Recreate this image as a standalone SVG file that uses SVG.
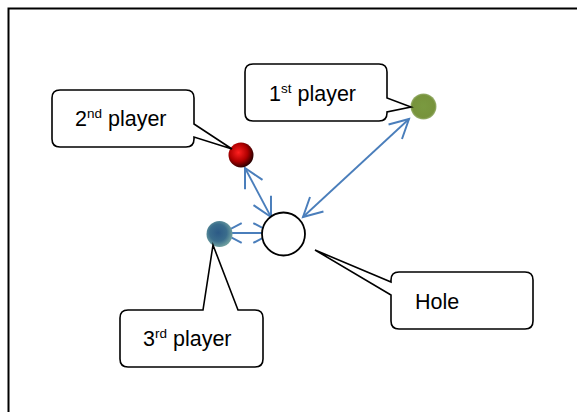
<svg xmlns="http://www.w3.org/2000/svg" width="577" height="412" viewBox="0 0 577 412">
<style>
.callout{fill:#fff;stroke:#000;stroke-width:1.6;stroke-linejoin:miter}
.lbl{font-family:"Liberation Sans",Arial,sans-serif;font-size:21.5px;fill:#000}
.sup{font-size:13.5px}
.conn{stroke:#4a7ebb;stroke-width:1.8;fill:none;marker-start:url(#ah);marker-end:url(#ah)}
</style>
<defs>
<marker id="ah" markerUnits="userSpaceOnUse" markerWidth="22" markerHeight="22" viewBox="0 0 20 20" refX="18" refY="10" orient="auto-start-reverse" overflow="visible">
<path d="M1,1 L18,10 L1,19" fill="none" stroke="#4a7ebb" stroke-width="1.8"/>
</marker>
<radialGradient id="red" cx="0.4" cy="0.4" r="0.65">
<stop offset="0" stop-color="#ff2020"/>
<stop offset="0.55" stop-color="#b00000"/>
<stop offset="1" stop-color="#1a0000"/>
</radialGradient>
<radialGradient id="green" cx="0.5" cy="0.5" r="0.5">
<stop offset="0" stop-color="#7a9a40"/>
<stop offset="0.85" stop-color="#77933c"/>
<stop offset="1" stop-color="#9ab070"/>
</radialGradient>
<radialGradient id="blue" cx="0.45" cy="0.45" r="0.55">
<stop offset="0" stop-color="#2c5a86"/>
<stop offset="0.6" stop-color="#3a6d8c"/>
<stop offset="1" stop-color="#6fa0a0"/>
</radialGradient>
</defs>
<path d="M8.5,412 V8.5 H577" fill="none" stroke="#000" stroke-width="2"/>
<g id="connectors">
<line class="conn" x1="245" y1="168" x2="271" y2="217"/>
<line class="conn" x1="223" y1="233" x2="272" y2="233"/>
<line class="conn" x1="303" y1="217" x2="409" y2="119"/>
</g>
<g id="hole">
<circle cx="283.5" cy="234" r="21.5" fill="#fff" stroke="#000" stroke-width="1.8"/>
</g>
<g id="ball2">
<circle cx="241" cy="155" r="12.5" fill="url(#red)"/>
</g>
<g id="ball1">
<circle cx="423.5" cy="106.5" r="13" fill="url(#green)"/>
</g>
<g id="ball3">
<circle cx="219.5" cy="234" r="13" fill="url(#blue)"/>
</g>
<g id="callout2">
<path class="callout" d="M60,90 H186 Q194,90 194,98 V124 L232,149 L194,137 V139 Q194,147 186,147 H60 Q52,147 52,139 V98 Q52,90 60,90 Z"/>
<text class="lbl" x="75" y="126">2<tspan class="sup" dy="-8">nd</tspan><tspan dy="8"> player</tspan></text>
</g>
<g id="callout1">
<path class="callout" d="M253,64 H379 Q387,64 387,72 V98 L411,107 L387,112 V113 Q387,121 379,121 H253 Q245,121 245,113 V72 Q245,64 253,64 Z"/>
<text class="lbl" x="269" y="101">1<tspan class="sup" dy="-8">st</tspan><tspan dy="8"> player</tspan></text>
</g>
<g id="callout3">
<path class="callout" d="M128,310 H203 L213,245 L238,310 H255 Q263,310 263,318 V359 Q263,367 255,367 H128 Q120,367 120,359 V318 Q120,310 128,310 Z"/>
<text class="lbl" x="143" y="346">3<tspan class="sup" dy="-8">rd</tspan><tspan dy="8"> player</tspan></text>
</g>
<g id="calloutHole">
<path class="callout" d="M399,272 H525 Q533,272 533,280 V321 Q533,329 525,329 H399 Q391,329 391,321 V295 L315,250 L391,282 V280 Q391,272 399,272 Z"/>
<text class="lbl" x="415" y="309">Hole</text>
</g>
</svg>
